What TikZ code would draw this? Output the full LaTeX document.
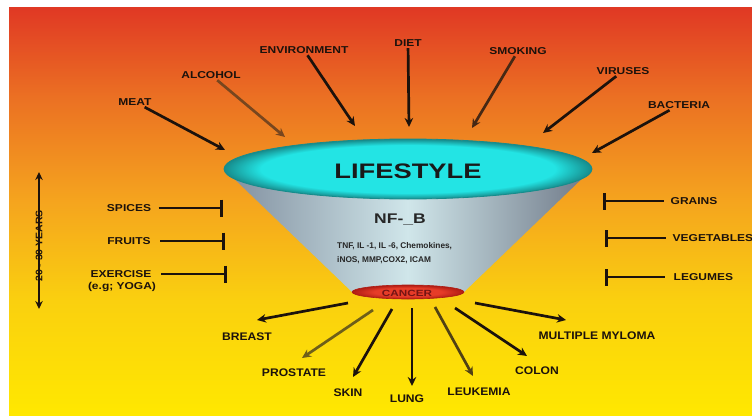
\documentclass[tikz,border=0pt]{standalone}
\usepackage{fontspec}
\setmainfont{Liberation Sans}
\newfontfamily\fwide[FakeStretch=1.2]{Liberation Sans}
\newfontfamily\fmid[FakeStretch=1.1]{Liberation Sans}
\newfontfamily\fbig[FakeStretch=1.3]{Liberation Sans}
\newfontfamily\fnf[FakeStretch=1.25]{Liberation Sans}
\usetikzlibrary{arrows.meta}
\definecolor{bgR}{RGB}{224,56,36}
\definecolor{bgO}{RGB}{235,112,35}
\definecolor{bgOY}{RGB}{245,165,30}
\definecolor{bgYO}{RGB}{250,208,15}
\definecolor{bgY}{RGB}{255,232,0}
\definecolor{cyI}{RGB}{35,228,228}
\definecolor{cyO}{RGB}{22,140,140}
\definecolor{rdI}{RGB}{230,60,40}
\definecolor{rdO}{RGB}{175,28,20}
\definecolor{coneL}{RGB}{128,142,158}
\definecolor{coneM}{RGB}{208,230,234}
\definecolor{coneR}{RGB}{110,120,135}
\definecolor{ink}{RGB}{28,18,12}
\definecolor{cancerTxt}{RGB}{115,20,20}
\definecolor{brownA}{RGB}{120,70,30}
\definecolor{brownS}{RGB}{70,40,20}
\definecolor{oliveP}{RGB}{110,95,25}
\definecolor{oliveL}{RGB}{80,65,20}
\pgfdeclareverticalshading{bgshade}{100bp}{color(0bp)=(bgY); color(25bp)=(bgY); color(39bp)=(bgYO); color(51bp)=(bgOY); color(64bp)=(bgO); color(75bp)=(bgR); color(100bp)=(bgR)}
\pgfdeclareradialshading{elshade}{\pgfpoint{0bp}{0bp}}{color(0bp)=(cyI); color(20bp)=(cyI); color(25bp)=(cyO); color(50bp)=(cyO)}
\pgfdeclareradialshading{redshade}{\pgfpoint{0bp}{0bp}}{color(0bp)=(rdI); color(15bp)=(rdI); color(25bp)=(rdO); color(50bp)=(rdO)}
\tikzset{
  toplab/.style={font=\fwide\bfseries\fontsize{10}{12}\selectfont, text=ink, inner sep=1.5pt},
  botlab/.style={font=\fmid\bfseries\fontsize{11}{13}\selectfont, text=ink, inner sep=1.5pt},
  arr/.style={draw=ink, line width=2.7pt, -{Stealth[length=9pt,width=8.5pt]}},
  tbar/.style={draw=ink, line width=2.8pt, -{Bar[width=17pt,line width=3.2pt]}},
  tbarR/.style={draw=ink, line width=2.8pt, {Bar[width=17pt,line width=3.2pt]}-},
}
\begin{document}
\begin{tikzpicture}[x=1pt,y=-1pt]
\useasboundingbox (0,0) rectangle (752,415);
% background
\fill[white] (0,0) rectangle (752,415);
\shade[shading=bgshade] (9,7) rectangle (752,415);

% cone
\shade[left color=coneL, right color=coneR, middle color=coneM]
  (225,170) -- (591,170) -- (464,292) -- (352,292) -- cycle;
\shade[shading=redshade, draw=rdO, line width=0.6pt] (408,292) ellipse [x radius=56, y radius=7];
\node[font=\fbig\bfseries\fontsize{9}{10}\selectfont, text=cancerTxt, inner sep=0pt] (cancer) at (407,293) {CANCER};

% lifestyle ellipse
\shade[shading=elshade, draw=cyO, line width=0.8pt] (408,169) ellipse [x radius=184, y radius=30];
\node[font=\fbig\bfseries\fontsize{21}{24}\selectfont, text=black!90] (life) at (408,171) {LIFESTYLE};

\node[font=\fnf\bfseries\fontsize{14}{16}\selectfont, text=black!85] (nf) at (400,220) {NF-\_B};
\node[font=\bfseries\fontsize{8.3}{10}\selectfont, text=black!85, anchor=west, inner sep=0pt] (med1) at (337,246) {TNF, IL -1, IL -6, Chemokines,};
\node[font=\bfseries\fontsize{8.3}{10}\selectfont, text=black!85, anchor=west, inner sep=0pt] (med2) at (337,260) {iNOS, MMP,COX2, ICAM};

% top labels
\node[toplab] (meat) at (135,102) {MEAT};
\node[toplab] (alcohol) at (211,75) {ALCOHOL};
\node[toplab] (env) at (304,50) {ENVIRONMENT};
\node[toplab] (diet) at (408,43) {DIET};
\node[toplab] (smoking) at (518,51) {SMOKING};
\node[toplab] (viruses) at (623,71) {VIRUSES};
\node[toplab] (bacteria) at (679,105) {BACTERIA};

\coordinate (tMeat) at (225,150);
\coordinate (tAlc) at (285,137);
\coordinate (tEnv) at (355,126);
\coordinate (tDiet) at (409,127);
\coordinate (tSmk) at (472,128);
\coordinate (tVir) at (543,133);
\coordinate (tBac) at (592,153);

\draw[arr] (meat) -- (tMeat);
\draw[arr, draw=brownA] (alcohol) -- (tAlc);
\draw[arr] (env) -- (tEnv);
\draw[arr] (diet) -- (tDiet);
\draw[arr, draw=brownS] (smoking) -- (tSmk);
\draw[arr] (viruses) -- (tVir);
\draw[arr] (bacteria) -- (tBac);

% left inhibitors
\node[toplab] (spices) at (129,208) {SPICES};
\node[toplab] (fruits) at (129,241) {FRUITS};
\node[toplab] (exercise) at (121,274) {EXERCISE};
\node[toplab] (yoga) at (122,287) {(e.g; YOGA)};
\coordinate (bSp) at (223,208);
\coordinate (bFr) at (225,241);
\coordinate (bEx) at (227,274);
\draw[tbar] ([xshift=6pt]spices.east) -- (bSp);
\draw[tbar] ([xshift=8pt]fruits.east) -- (bFr);
\draw[tbar] ([xshift=8pt]exercise.east) -- (bEx);

% right inhibitors
\node[toplab, anchor=west] (grains) at (669,201) {GRAINS};
\node[toplab, anchor=west] (veg) at (671,238) {VEGETABLES};
\node[toplab, anchor=west] (legumes) at (672,277) {LEGUMES};
\coordinate (bGr) at (603,201);
\coordinate (bVe) at (605,238);
\coordinate (bLe) at (605,277);
\draw[tbarR] (bGr) -- ([xshift=-5pt]grains.west);
\draw[tbarR] (bVe) -- ([xshift=-5pt]veg.west);
\draw[tbarR] (bLe) -- ([xshift=-7pt]legumes.west);

% years arrow
\coordinate (yTop) at (39,172);
\coordinate (yBot) at (39,309);
\draw[draw=ink, line width=2.2pt, {Stealth[length=8pt,width=7.5pt]}-{Stealth[length=8pt,width=7.5pt]}] (yTop) -- (yBot);
\node[rotate=90, font=\fmid\bfseries\fontsize{9.5}{11}\selectfont, text=ink, inner sep=0pt] (years) at (39,246) {20 - 30 YEARS};

% bottom outcomes
\coordinate (sBr) at (348,303);
\coordinate (eBr) at (257,320);
\coordinate (sPr) at (373,310);
\coordinate (ePr) at (302,358);
\coordinate (sSk) at (392,309);
\coordinate (eSk) at (353,377);
\coordinate (sLu) at (412,308);
\coordinate (eLu) at (412,386);
\coordinate (sLe) at (435,307);
\coordinate (eLe) at (473,376);
\coordinate (sCo) at (455,308);
\coordinate (eCo) at (527,356);
\coordinate (sMm) at (475,303);
\coordinate (eMm) at (566,320);

\draw[arr] (sBr) -- (eBr);
\draw[arr, draw=oliveP] (sPr) -- (ePr);
\draw[arr] (sSk) -- (eSk);
\draw[arr] (sLu) -- (eLu);
\draw[arr, draw=oliveL] (sLe) -- (eLe);
\draw[arr] (sCo) -- (eCo);
\draw[arr] (sMm) -- (eMm);

\node[botlab] (breast) at (247,337) {BREAST};
\node[botlab] (prostate) at (294,373) {PROSTATE};
\node[botlab] (skin) at (348,393) {SKIN};
\node[botlab] (lung) at (407,399) {LUNG};
\node[botlab] (leukemia) at (479,392) {LEUKEMIA};
\node[botlab] (colon) at (537,371) {COLON};
\node[botlab] (myloma) at (597,336) {MULTIPLE MYLOMA};
\end{tikzpicture}
\end{document}
